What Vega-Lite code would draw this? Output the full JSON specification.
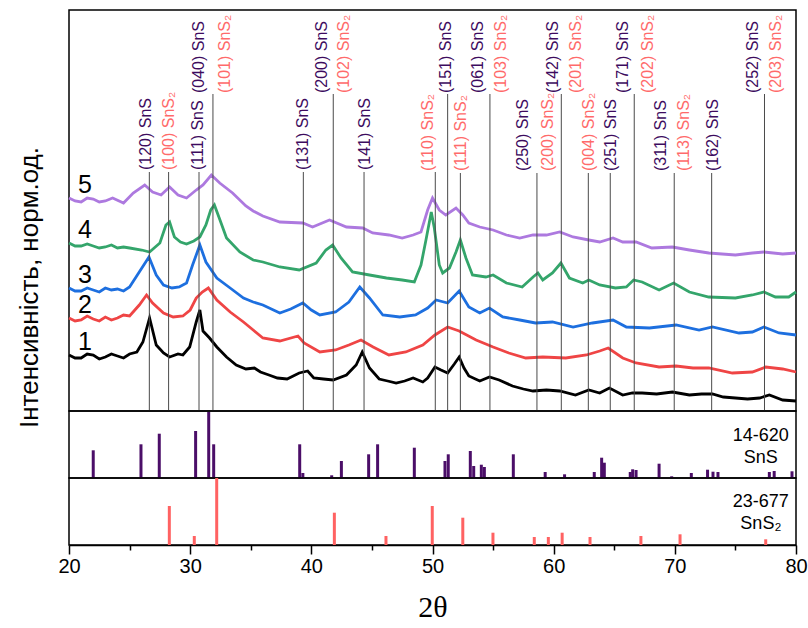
{
  "$schema": "https://vega.github.io/schema/vega-lite/v6.json",
  "background": "white",
  "padding": {"left": 15, "top": 9, "right": 10, "bottom": 0},
  "spacing": 0,
  "bounds": "flush",
  "config": {
    "font": "Liberation Sans",
    "view": {"stroke": "black", "strokeWidth": 1.5},
    "axisY": {"domain": false, "ticks": false, "labels": false, "grid": false, "titleX": -40, "titleY": 277, "titleAngle": 270, "titleAlign": "center", "titleBaseline": "middle", "titleFontSize": 26, "titleFontWeight": "normal", "titleColor": "black", "titleFont": "Liberation Sans"}
  },
  "datasets": {
    "curves": [
      {"s":"1","t":20,"v":190},{"s":"1","t":20.5,"v":187},{"s":"1","t":21,"v":187},{"s":"1","t":21.5,"v":191},{"s":"1","t":22,"v":190},{"s":"1","t":22.5,"v":186},{"s":"1","t":23,"v":188},{"s":"1","t":23.5,"v":191},{"s":"1","t":24,"v":189},{"s":"1","t":24.5,"v":187},{"s":"1","t":25,"v":191},{"s":"1","t":25.6,"v":193},{"s":"1","t":26.1,"v":203},{"s":"1","t":26.65,"v":227},{"s":"1","t":27.2,"v":200},{"s":"1","t":27.8,"v":192},{"s":"1","t":28.3,"v":188},{"s":"1","t":29,"v":191},{"s":"1","t":29.4,"v":190},{"s":"1","t":29.96,"v":198},{"s":"1","t":30.5,"v":223},{"s":"1","t":30.8,"v":235},{"s":"1","t":31.06,"v":214},{"s":"1","t":31.6,"v":207},{"s":"1","t":32.2,"v":198},{"s":"1","t":33,"v":188},{"s":"1","t":33.8,"v":180},{"s":"1","t":34.6,"v":176},{"s":"1","t":35.3,"v":177},{"s":"1","t":35.8,"v":173},{"s":"1","t":36.5,"v":170},{"s":"1","t":37.2,"v":167},{"s":"1","t":38,"v":166},{"s":"1","t":39,"v":172},{"s":"1","t":39.7,"v":174},{"s":"1","t":40.2,"v":167},{"s":"1","t":41,"v":166},{"s":"1","t":41.8,"v":165},{"s":"1","t":42.9,"v":170},{"s":"1","t":43.7,"v":180},{"s":"1","t":44.2,"v":193},{"s":"1","t":44.8,"v":177},{"s":"1","t":45.6,"v":166},{"s":"1","t":46.3,"v":164},{"s":"1","t":47,"v":162},{"s":"1","t":47.7,"v":164},{"s":"1","t":48.4,"v":167},{"s":"1","t":49.2,"v":163},{"s":"1","t":49.6,"v":167},{"s":"1","t":50.2,"v":178},{"s":"1","t":50.7,"v":175},{"s":"1","t":51.25,"v":172},{"s":"1","t":51.8,"v":181},{"s":"1","t":52.2,"v":188},{"s":"1","t":52.6,"v":177},{"s":"1","t":53,"v":169},{"s":"1","t":53.9,"v":164},{"s":"1","t":54.7,"v":168},{"s":"1","t":55.5,"v":165},{"s":"1","t":56.6,"v":159},{"s":"1","t":57.5,"v":156},{"s":"1","t":58.3,"v":154},{"s":"1","t":59.4,"v":155},{"s":"1","t":60.5,"v":154},{"s":"1","t":61.8,"v":150},{"s":"1","t":62.9,"v":155},{"s":"1","t":63.8,"v":152},{"s":"1","t":64.6,"v":157},{"s":"1","t":65.7,"v":150},{"s":"1","t":66.5,"v":152},{"s":"1","t":67.3,"v":152},{"s":"1","t":68.5,"v":151},{"s":"1","t":69.8,"v":153},{"s":"1","t":71.2,"v":150},{"s":"1","t":72.2,"v":151},{"s":"1","t":73.1,"v":151},{"s":"1","t":74,"v":148},{"s":"1","t":75,"v":147},{"s":"1","t":76,"v":146},{"s":"1","t":77,"v":147},{"s":"1","t":77.8,"v":150},{"s":"1","t":78.9,"v":145},{"s":"1","t":80,"v":144},

      {"s":"2","t":20,"v":227},{"s":"2","t":20.5,"v":224},{"s":"2","t":21,"v":225},{"s":"2","t":21.5,"v":229},{"s":"2","t":22,"v":226},{"s":"2","t":22.5,"v":224},{"s":"2","t":23,"v":228},{"s":"2","t":23.5,"v":225},{"s":"2","t":24,"v":227},{"s":"2","t":24.5,"v":230},{"s":"2","t":25,"v":229},{"s":"2","t":25.8,"v":240},{"s":"2","t":26.4,"v":250},{"s":"2","t":26.9,"v":242},{"s":"2","t":27.8,"v":232},{"s":"2","t":28.6,"v":228},{"s":"2","t":29.4,"v":229},{"s":"2","t":30,"v":235},{"s":"2","t":30.5,"v":247},{"s":"2","t":31,"v":253},{"s":"2","t":31.5,"v":257},{"s":"2","t":32.2,"v":245},{"s":"2","t":33.3,"v":233},{"s":"2","t":34.4,"v":223},{"s":"2","t":35.2,"v":215},{"s":"2","t":36,"v":207},{"s":"2","t":37.4,"v":204},{"s":"2","t":38.9,"v":209},{"s":"2","t":39.4,"v":202},{"s":"2","t":40.7,"v":193},{"s":"2","t":42,"v":195},{"s":"2","t":43.1,"v":200},{"s":"2","t":44.1,"v":205},{"s":"2","t":45.1,"v":198},{"s":"2","t":46.4,"v":190},{"s":"2","t":47.8,"v":193},{"s":"2","t":49.2,"v":200},{"s":"2","t":50.2,"v":210},{"s":"2","t":51.25,"v":218},{"s":"2","t":52.2,"v":214},{"s":"2","t":53.6,"v":205},{"s":"2","t":55,"v":198},{"s":"2","t":56.3,"v":192},{"s":"2","t":57.7,"v":187},{"s":"2","t":59.1,"v":188},{"s":"2","t":61,"v":187},{"s":"2","t":62.7,"v":190},{"s":"2","t":63.8,"v":194},{"s":"2","t":64.5,"v":197},{"s":"2","t":65.7,"v":187},{"s":"2","t":66.8,"v":182},{"s":"2","t":68.7,"v":178},{"s":"2","t":70.1,"v":179},{"s":"2","t":71.5,"v":177},{"s":"2","t":72.8,"v":177},{"s":"2","t":74.75,"v":172},{"s":"2","t":76.4,"v":173},{"s":"2","t":77.5,"v":178},{"s":"2","t":78.9,"v":176},{"s":"2","t":80,"v":173},

      {"s":"3","t":20,"v":257},{"s":"3","t":20.5,"v":254},{"s":"3","t":21,"v":254},{"s":"3","t":21.5,"v":257},{"s":"3","t":22,"v":255},{"s":"3","t":22.5,"v":253},{"s":"3","t":23,"v":257},{"s":"3","t":23.5,"v":255},{"s":"3","t":24,"v":256},{"s":"3","t":24.5,"v":254},{"s":"3","t":25,"v":258},{"s":"3","t":25.8,"v":273},{"s":"3","t":26.6,"v":288},{"s":"3","t":27.2,"v":270},{"s":"3","t":27.8,"v":260},{"s":"3","t":28.5,"v":257},{"s":"3","t":29.1,"v":258},{"s":"3","t":29.7,"v":262},{"s":"3","t":30.2,"v":280},{"s":"3","t":30.8,"v":300},{"s":"3","t":31.3,"v":283},{"s":"3","t":32.2,"v":267},{"s":"3","t":33.3,"v":257},{"s":"3","t":34.4,"v":247},{"s":"3","t":35.2,"v":243},{"s":"3","t":36,"v":240},{"s":"3","t":37.4,"v":232},{"s":"3","t":38.3,"v":236},{"s":"3","t":39.3,"v":242},{"s":"3","t":40,"v":235},{"s":"3","t":40.7,"v":230},{"s":"3","t":42,"v":233},{"s":"3","t":43.1,"v":243},{"s":"3","t":44,"v":258},{"s":"3","t":44.8,"v":247},{"s":"3","t":45.9,"v":230},{"s":"3","t":47.3,"v":228},{"s":"3","t":48.6,"v":230},{"s":"3","t":49.6,"v":237},{"s":"3","t":50.3,"v":245},{"s":"3","t":51.25,"v":242},{"s":"3","t":52.2,"v":254},{"s":"3","t":53,"v":238},{"s":"3","t":53.9,"v":232},{"s":"3","t":54.7,"v":237},{"s":"3","t":55.8,"v":228},{"s":"3","t":57.2,"v":225},{"s":"3","t":58.5,"v":222},{"s":"3","t":59.9,"v":223},{"s":"3","t":61.6,"v":218},{"s":"3","t":63.2,"v":222},{"s":"3","t":64.9,"v":225},{"s":"3","t":66,"v":218},{"s":"3","t":67.9,"v":217},{"s":"3","t":70.1,"v":220},{"s":"3","t":72,"v":215},{"s":"3","t":73.1,"v":218},{"s":"3","t":75.3,"v":212},{"s":"3","t":76.4,"v":213},{"s":"3","t":77.35,"v":218},{"s":"3","t":78.6,"v":212},{"s":"3","t":80,"v":210},

      {"s":"4","t":20,"v":302},{"s":"4","t":20.5,"v":299},{"s":"4","t":21,"v":299},{"s":"4","t":21.5,"v":301},{"s":"4","t":22,"v":299},{"s":"4","t":22.5,"v":297},{"s":"4","t":23,"v":298},{"s":"4","t":23.5,"v":300},{"s":"4","t":24,"v":297},{"s":"4","t":24.5,"v":298},{"s":"4","t":25,"v":297},{"s":"4","t":26,"v":295},{"s":"4","t":26.65,"v":293},{"s":"4","t":27.5,"v":302},{"s":"4","t":28,"v":320},{"s":"4","t":28.3,"v":323},{"s":"4","t":28.7,"v":308},{"s":"4","t":29.2,"v":303},{"s":"4","t":29.7,"v":301},{"s":"4","t":30.3,"v":304},{"s":"4","t":30.8,"v":308},{"s":"4","t":31.3,"v":320},{"s":"4","t":31.7,"v":335},{"s":"4","t":32,"v":340},{"s":"4","t":32.4,"v":327},{"s":"4","t":33,"v":307},{"s":"4","t":34.1,"v":293},{"s":"4","t":35.2,"v":285},{"s":"4","t":36,"v":283},{"s":"4","t":37.4,"v":278},{"s":"4","t":39,"v":275},{"s":"4","t":40.4,"v":282},{"s":"4","t":41.2,"v":295},{"s":"4","t":41.76,"v":300},{"s":"4","t":42.45,"v":287},{"s":"4","t":43.4,"v":273},{"s":"4","t":44.8,"v":270},{"s":"4","t":46.2,"v":267},{"s":"4","t":47.5,"v":265},{"s":"4","t":48.5,"v":263},{"s":"4","t":49.05,"v":280},{"s":"4","t":49.46,"v":305},{"s":"4","t":49.9,"v":333},{"s":"4","t":50.15,"v":317},{"s":"4","t":50.56,"v":280},{"s":"4","t":50.84,"v":272},{"s":"4","t":51.4,"v":277},{"s":"4","t":51.94,"v":293},{"s":"4","t":52.3,"v":305},{"s":"4","t":52.76,"v":287},{"s":"4","t":53.3,"v":270},{"s":"4","t":54.4,"v":268},{"s":"4","t":55,"v":270},{"s":"4","t":56.1,"v":262},{"s":"4","t":57.4,"v":258},{"s":"4","t":58.3,"v":268},{"s":"4","t":58.7,"v":272},{"s":"4","t":59.1,"v":265},{"s":"4","t":59.9,"v":272},{"s":"4","t":60.6,"v":282},{"s":"4","t":61.3,"v":267},{"s":"4","t":62.4,"v":262},{"s":"4","t":62.9,"v":265},{"s":"4","t":63.8,"v":260},{"s":"4","t":65.1,"v":257},{"s":"4","t":66,"v":258},{"s":"4","t":66.6,"v":265},{"s":"4","t":67.3,"v":263},{"s":"4","t":68.7,"v":255},{"s":"4","t":69.9,"v":262},{"s":"4","t":71.2,"v":253},{"s":"4","t":72.8,"v":248},{"s":"4","t":75,"v":247},{"s":"4","t":76.4,"v":250},{"s":"4","t":77.35,"v":253},{"s":"4","t":78.3,"v":248},{"s":"4","t":79.4,"v":248},{"s":"4","t":80,"v":253},

      {"s":"5","t":20,"v":347},{"s":"5","t":20.5,"v":344},{"s":"5","t":21,"v":343},{"s":"5","t":21.5,"v":347},{"s":"5","t":22,"v":346},{"s":"5","t":22.5,"v":343},{"s":"5","t":23,"v":344},{"s":"5","t":23.6,"v":347},{"s":"5","t":24.5,"v":342},{"s":"5","t":25.3,"v":352},{"s":"5","t":26.25,"v":360},{"s":"5","t":26.9,"v":353},{"s":"5","t":27.6,"v":350},{"s":"5","t":28.3,"v":358},{"s":"5","t":29,"v":350},{"s":"5","t":29.7,"v":347},{"s":"5","t":30.5,"v":355},{"s":"5","t":31.06,"v":360},{"s":"5","t":31.75,"v":370},{"s":"5","t":32.44,"v":362},{"s":"5","t":33.5,"v":352},{"s":"5","t":34.6,"v":339},{"s":"5","t":35.2,"v":334},{"s":"5","t":36,"v":329},{"s":"5","t":37.4,"v":323},{"s":"5","t":39.3,"v":322},{"s":"5","t":40.1,"v":318},{"s":"5","t":41.5,"v":325},{"s":"5","t":42.9,"v":318},{"s":"5","t":44.24,"v":317},{"s":"5","t":45.06,"v":312},{"s":"5","t":46.4,"v":310},{"s":"5","t":47.5,"v":307},{"s":"5","t":48.4,"v":310},{"s":"5","t":49.05,"v":313},{"s":"5","t":49.6,"v":335},{"s":"5","t":50,"v":347},{"s":"5","t":50.56,"v":335},{"s":"5","t":51.1,"v":330},{"s":"5","t":51.94,"v":337},{"s":"5","t":52.5,"v":330},{"s":"5","t":53,"v":322},{"s":"5","t":53.9,"v":318},{"s":"5","t":55,"v":315},{"s":"5","t":56.1,"v":310},{"s":"5","t":57.2,"v":307},{"s":"5","t":58.3,"v":310},{"s":"5","t":59.4,"v":310},{"s":"5","t":60.5,"v":313},{"s":"5","t":61.6,"v":308},{"s":"5","t":62.9,"v":305},{"s":"5","t":63.8,"v":303},{"s":"5","t":64.9,"v":307},{"s":"5","t":65.7,"v":303},{"s":"5","t":66.8,"v":303},{"s":"5","t":68.1,"v":297},{"s":"5","t":69.8,"v":298},{"s":"5","t":71.2,"v":295},{"s":"5","t":72.8,"v":292},{"s":"5","t":75,"v":290},{"s":"5","t":76.4,"v":292},{"s":"5","t":77.35,"v":293},{"s":"5","t":78.9,"v":291},{"s":"5","t":80,"v":292}
    ],
    "lines": [
      {"t":26.63,"top":373},{"t":28.22,"top":373},{"t":30.73,"top":373},{"t":31.88,"top":451},{"t":39.34,"top":373},{"t":41.81,"top":451},{"t":44.35,"top":373},{"t":50.23,"top":373},{"t":51.25,"top":451},{"t":52.3,"top":372},{"t":54.74,"top":451},{"t":58.62,"top":372},{"t":60.63,"top":451},{"t":62.86,"top":372},{"t":64.67,"top":372},{"t":66.65,"top":451},{"t":69.95,"top":372},{"t":73.04,"top":372},{"t":77.4,"top":451}
    ],
    "labels": [
      {"t":26.35,"v":375,"p":"SnS","text":"(120) SnS"},
      {"t":28.28,"v":375,"p":"SnS2","text":"(100) SnS₂"},
      {"t":30.62,"v":375,"p":"SnS","text":"(111) SnS"},
      {"t":39.29,"v":375,"p":"SnS","text":"(131) SnS"},
      {"t":44.43,"v":375,"p":"SnS","text":"(141) SnS"},
      {"t":49.6,"v":374,"p":"SnS2","text":"(110) SnS₂"},
      {"t":52.35,"v":374,"p":"SnS2","text":"(111) SnS₂"},
      {"t":57.44,"v":374,"p":"SnS","text":"(250) SnS"},
      {"t":59.5,"v":374,"p":"SnS2","text":"(200) SnS₂"},
      {"t":62.94,"v":374,"p":"SnS2","text":"(004) SnS₂"},
      {"t":64.73,"v":374,"p":"SnS","text":"(251) SnS"},
      {"t":68.86,"v":374,"p":"SnS","text":"(311) SnS"},
      {"t":70.78,"v":374,"p":"SnS2","text":"(113) SnS₂"},
      {"t":73.12,"v":374,"p":"SnS","text":"(162) SnS"},
      {"t":30.75,"v":452,"p":"SnS","text":"(040) SnS"},
      {"t":32.9,"v":452,"p":"SnS2","text":"(101) SnS₂"},
      {"t":40.88,"v":452,"p":"SnS","text":"(200) SnS"},
      {"t":42.72,"v":452,"p":"SnS2","text":"(102) SnS₂"},
      {"t":51.11,"v":452,"p":"SnS","text":"(151) SnS"},
      {"t":53.73,"v":452,"p":"SnS","text":"(061) SnS"},
      {"t":55.65,"v":452,"p":"SnS2","text":"(103) SnS₂"},
      {"t":59.92,"v":452,"p":"SnS","text":"(142) SnS"},
      {"t":61.84,"v":452,"p":"SnS2","text":"(201) SnS₂"},
      {"t":65.7,"v":452,"p":"SnS","text":"(171) SnS"},
      {"t":67.76,"v":452,"p":"SnS2","text":"(202) SnS₂"},
      {"t":76.42,"v":452,"p":"SnS","text":"(252) SnS"},
      {"t":78.35,"v":452,"p":"SnS2","text":"(203) SnS₂"}
    ],
    "refs": [
      {"p":"SnS","t":22.0,"h":27.7},{"p":"SnS","t":25.94,"h":33.7},{"p":"SnS","t":27.45,"h":44.3},{"p":"SnS","t":30.45,"h":47},{"p":"SnS","t":31.53,"h":66},{"p":"SnS","t":31.94,"h":33.7},{"p":"SnS","t":39.04,"h":33.7},{"p":"SnS","t":39.3,"h":5},{"p":"SnS","t":41.68,"h":2.7},{"p":"SnS","t":42.48,"h":17},{"p":"SnS","t":44.73,"h":23.7},{"p":"SnS","t":45.47,"h":33.7},{"p":"SnS","t":48.5,"h":30.3},{"p":"SnS","t":51.03,"h":17},{"p":"SnS","t":51.3,"h":23.7},{"p":"SnS","t":53.12,"h":27},{"p":"SnS","t":53.4,"h":12},{"p":"SnS","t":54.03,"h":13.3},{"p":"SnS","t":54.28,"h":11},{"p":"SnS","t":56.67,"h":23.7},{"p":"SnS","t":59.3,"h":6},{"p":"SnS","t":60.9,"h":3.7},{"p":"SnS","t":63.35,"h":6},{"p":"SnS","t":63.96,"h":20.3},{"p":"SnS","t":64.18,"h":15.3},{"p":"SnS","t":66.32,"h":6},{"p":"SnS","t":66.52,"h":8.7},{"p":"SnS","t":66.8,"h":8},{"p":"SnS","t":68.7,"h":14.3},{"p":"SnS","t":69.74,"h":1.7},{"p":"SnS","t":71.36,"h":5},{"p":"SnS","t":72.7,"h":8.3},{"p":"SnS","t":73.15,"h":6.3},{"p":"SnS","t":73.56,"h":6},{"p":"SnS","t":77.8,"h":6},{"p":"SnS","t":78.2,"h":7},{"p":"SnS","t":79.67,"h":6.7},
      {"p":"SnS2","t":28.28,"h":39},{"p":"SnS2","t":30.34,"h":9},{"p":"SnS2","t":32.19,"h":67},{"p":"SnS2","t":41.9,"h":32.3},{"p":"SnS2","t":46.16,"h":9},{"p":"SnS2","t":49.98,"h":39},{"p":"SnS2","t":52.5,"h":27.3},{"p":"SnS2","t":54.99,"h":12.3},{"p":"SnS2","t":58.4,"h":8},{"p":"SnS2","t":59.56,"h":8},{"p":"SnS2","t":60.7,"h":12.3},{"p":"SnS2","t":63.0,"h":8},{"p":"SnS2","t":67.2,"h":9},{"p":"SnS2","t":70.43,"h":10.7},{"p":"SnS2","t":77.5,"h":5.7}
    ]
  },
  "vconcat": [
    {
      "width": 727,
      "height": 401,
      "layer": [
        {
          "data": {"name": "curves"},
          "mark": {"type": "line", "strokeWidth": 2.8, "interpolate": "linear"},
          "encoding": {
            "x": {"field": "t", "type": "quantitative", "scale": {"domain": [20, 80], "nice": false, "zero": false}, "axis": null},
            "y": {"field": "v", "type": "quantitative", "scale": {"domain": [134, 535], "nice": false, "zero": false}, "title": "Інтенсивність, норм.од."},
            "color": {"field": "s", "type": "nominal", "scale": {"domain": ["1","2","3","4","5"], "range": ["#000000","#ef4545","#1d6fdf","#34a56b","#ad79df"]}, "legend": null}
          }
        },
        {
          "data": {"name": "lines"},
          "mark": {"type": "rule", "color": "#4a4a4a", "strokeWidth": 1},
          "encoding": {
            "x": {"field": "t", "type": "quantitative", "axis": null},
            "y": {"field": "top", "type": "quantitative", "title": "Інтенсивність, норм.од."},
            "y2": {"datum": 134}
          }
        },
        {
          "data": {"name": "labels"},
          "mark": {"type": "text", "angle": 270, "align": "left", "baseline": "middle", "fontSize": 16, "font": "Liberation Sans"},
          "encoding": {
            "x": {"field": "t", "type": "quantitative", "axis": null},
            "y": {"field": "v", "type": "quantitative", "title": "Інтенсивність, норм.од."},
            "text": {"field": "text"},
            "color": {"field": "p", "type": "nominal", "scale": {"domain": ["SnS","SnS2"], "range": ["#3d0b5e","#ff6a6a"]}, "legend": null}
          }
        },
        {
          "data": {"name": "curves"},
          "transform": [{"filter": "datum.t === 20"}],
          "mark": {"type": "text", "align": "left", "baseline": "middle", "dx": 9, "dy": -13, "fontSize": 25, "color": "black"},
          "encoding": {
            "x": {"field": "t", "type": "quantitative", "axis": null},
            "y": {"field": "v", "type": "quantitative", "title": "Інтенсивність, норм.од."},
            "text": {"field": "s"}
          }
        }
      ],
      "resolve": {"scale": {"color": "independent"}}
    },
    {
      "width": 727,
      "height": 67,
      "layer": [
        {
          "data": {"name": "refs"},
          "transform": [{"filter": "datum.p === 'SnS'"}],
          "mark": {"type": "rule", "color": "#4b0e68", "strokeWidth": 3},
          "encoding": {
            "x": {"field": "t", "type": "quantitative", "scale": {"domain": [20, 80], "nice": false, "zero": false}, "axis": null},
            "y": {"field": "h", "type": "quantitative", "scale": {"domain": [0, 67], "nice": false}, "axis": null},
            "y2": {"datum": 0}
          }
        },
        {
          "data": {"values": [{}]},
          "mark": {"type": "text", "text": ["14-620", "SnS"], "align": "center", "baseline": "middle", "lineHeight": 22, "fontSize": 18, "color": "black"},
          "encoding": {
            "x": {"datum": 77.1, "type": "quantitative"},
            "y": {"datum": 41.7, "type": "quantitative"}
          }
        }
      ]
    },
    {
      "width": 727,
      "height": 67,
      "layer": [
        {
          "data": {"name": "refs"},
          "transform": [{"filter": "datum.p === 'SnS2'"}],
          "mark": {"type": "rule", "color": "#ff6262", "strokeWidth": 3},
          "encoding": {
            "x": {"field": "t", "type": "quantitative", "scale": {"domain": [20, 80], "nice": false, "zero": false},
              "axis": {"values": [20,25,30,35,40,45,50,55,60,65,70,75,80], "labelExpr": "datum.value % 10 === 0 ? datum.label : ''", "tickSize": {"condition": {"test": "datum.value % 10 === 0", "value": 9}, "value": 5}, "tickColor": "black", "tickWidth": 1.5, "domainColor": "black", "domainWidth": 1.5, "grid": false, "labelFontSize": 20, "labelColor": "black", "labelFont": "Liberation Sans", "labelPadding": 2, "labelFlush": false, "title": "2θ", "titleFont": "Liberation Serif", "titleFontSize": 30, "titleFontWeight": "normal", "titleColor": "black", "titlePadding": 16}},
            "y": {"field": "h", "type": "quantitative", "scale": {"domain": [0, 67], "nice": false}, "axis": null},
            "y2": {"datum": 0}
          }
        },
        {
          "data": {"values": [{}]},
          "mark": {"type": "text", "text": ["23-677", "SnS₂"], "align": "center", "baseline": "middle", "lineHeight": 22, "fontSize": 18, "color": "black"},
          "encoding": {
            "x": {"datum": 77.1, "type": "quantitative"},
            "y": {"datum": 43.3, "type": "quantitative"}
          }
        }
      ]
    }
  ]
}
